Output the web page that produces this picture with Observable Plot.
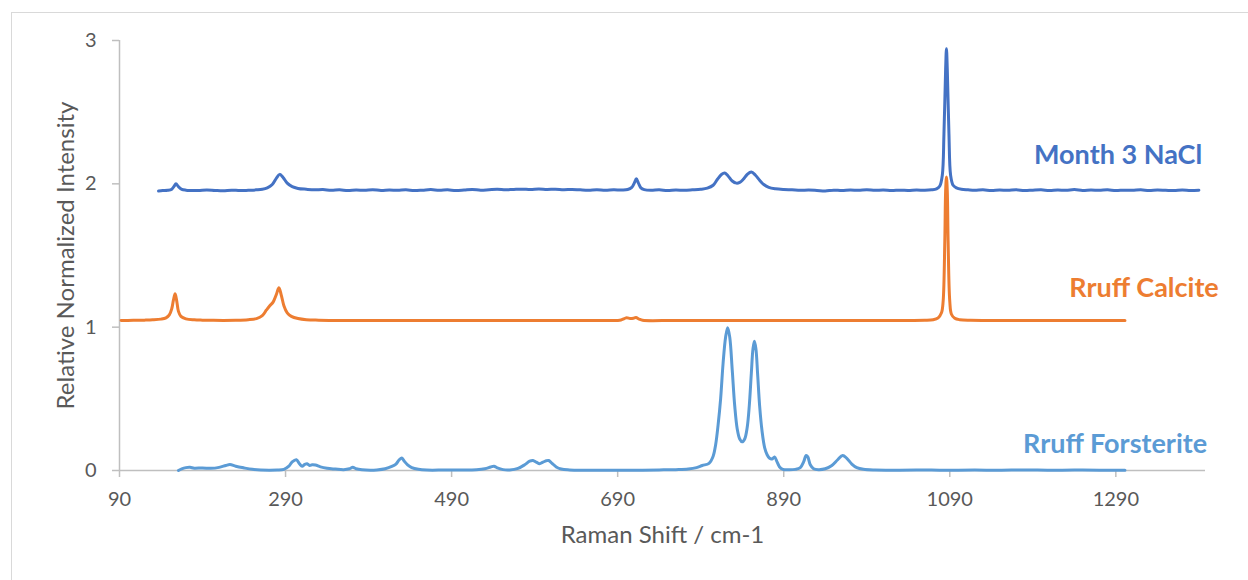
<!DOCTYPE html>
<html>
<head>
<meta charset="utf-8">
<script src="https://cdn.jsdelivr.net/npm/d3@7"></script>
<script src="https://cdn.jsdelivr.net/npm/@observablehq/plot@0.6"></script>
<style>
  html, body { margin: 0; padding: 0; background: #fff; }
  #chart { position: relative; width: 1248px; height: 580px; overflow: hidden; }
  #chart svg { display: block; }
  #border {
    position: absolute; left: 11px; top: 12px; right: -4px; bottom: -4px;
    border: 1px solid #d9d9d9; pointer-events: none;
  }
</style>
</head>
<body>
<div id="chart"><div id="border"></div></div>
<script>
// Raman spectra, offset vertically: [shift (cm-1), relative normalized intensity]
const naclSpectrum = [
  [137,1.950],[142,1.953],[148,1.955],[153,1.963],[156,1.985],[158,2.000],[161,1.980],[165,1.962],
  [170,1.956],[177,1.954],[185,1.953],[195,1.957],[205,1.954],[215,1.952],[225,1.956],[235,1.953],
  [245,1.955],[255,1.958],[262,1.962],[268,1.972],[274,1.995],[279,2.040],[283,2.066],[287,2.045],
  [292,2.005],[298,1.980],[305,1.968],[315,1.962],[325,1.958],[335,1.960],[345,1.955],[355,1.958],
  [365,1.953],[375,1.957],[385,1.955],[395,1.959],[405,1.954],[415,1.957],[425,1.955],[435,1.958],
  [445,1.953],[455,1.956],[465,1.960],[475,1.955],[485,1.958],[495,1.954],[505,1.957],[515,1.961],
  [525,1.956],[535,1.959],[545,1.962],[555,1.958],[565,1.961],[575,1.963],[585,1.960],[595,1.964],
  [605,1.961],[615,1.963],[625,1.959],[635,1.961],[645,1.958],[655,1.956],[665,1.959],[675,1.955],
  [685,1.958],[695,1.957],[702,1.960],[707,1.975],[710,2.005],[712.5,2.035],[715,2.005],[718,1.972],
  [722,1.960],[730,1.955],[740,1.958],[750,1.953],[760,1.957],[770,1.955],[780,1.958],[790,1.962],
  [798,1.970],[805,1.990],[810,2.030],[815,2.065],[819,2.075],[823,2.055],[828,2.020],[833,2.005],
  [837,2.010],[841,2.030],[846,2.065],[851,2.082],[856,2.060],[861,2.025],[866,1.995],[872,1.975],
  [880,1.965],[890,1.960],[900,1.958],[910,1.955],[920,1.957],[930,1.954],[940,1.950],[950,1.956],
  [960,1.953],[970,1.957],[980,1.955],[990,1.958],[1000,1.955],[1010,1.957],[1020,1.953],[1030,1.956],
  [1040,1.954],[1050,1.957],[1060,1.955],[1068,1.958],[1074,1.965],[1078,1.985],[1081,2.060],
  [1083,2.350],[1085,2.800],[1086,2.943],[1087,2.800],[1089,2.350],[1091,2.060],[1094,1.990],
  [1098,1.972],[1104,1.962],[1112,1.958],[1120,1.955],[1130,1.958],[1140,1.954],[1150,1.957],
  [1160,1.955],[1170,1.959],[1180,1.953],[1190,1.956],[1200,1.958],[1210,1.954],[1220,1.957],
  [1230,1.955],[1240,1.960],[1250,1.954],[1260,1.957],[1270,1.955],[1280,1.958],[1290,1.953],
  [1300,1.956],[1310,1.955],[1320,1.958],[1330,1.954],[1340,1.957],[1350,1.955],[1360,1.953],
  [1370,1.957],[1380,1.954],[1390,1.956]
];

const calciteSpectrum = [
  [92,1.047],[100,1.047],[110,1.048],[120,1.049],[130,1.051],[140,1.056],[146,1.065],[150,1.085],
  [153,1.130],[155,1.190],[157,1.233],[159,1.180],[161,1.110],[164,1.075],[170,1.058],[180,1.051],
  [190,1.049],[200,1.048],[215,1.047],[230,1.048],[245,1.052],[255,1.060],[262,1.080],[267,1.120],
  [271,1.150],[275,1.175],[279,1.230],[282,1.275],[285,1.220],[288,1.150],[292,1.100],[297,1.075],
  [305,1.060],[315,1.052],[330,1.049],[360,1.047],[450,1.047],[550,1.047],[650,1.047],[690,1.047],
  [694,1.050],[698,1.060],[701,1.066],[705,1.060],[709,1.062],[712,1.067],[716,1.056],[720,1.048],
  [760,1.047],[850,1.047],[950,1.047],[1040,1.047],[1060,1.048],[1070,1.052],[1076,1.065],
  [1080,1.100],[1082,1.180],[1084,1.600],[1085,1.950],[1086,2.047],[1087,1.950],[1088,1.600],
  [1090,1.180],[1092,1.090],[1096,1.062],[1102,1.052],[1115,1.048],[1150,1.047],[1250,1.047],
  [1301,1.047]
];

const forsteriteSpectrum = [
  [161,0.000],[165,0.012],[170,0.020],[175,0.022],[180,0.016],[190,0.018],[200,0.015],[210,0.022],
  [218,0.035],[223,0.042],[230,0.030],[240,0.018],[250,0.008],[260,0.003],[270,0.002],[280,0.003],
  [288,0.008],[294,0.030],[298,0.060],[303,0.075],[307,0.045],[310,0.030],[313,0.042],[316,0.047],
  [319,0.035],[322,0.040],[326,0.038],[332,0.025],[340,0.015],[350,0.010],[360,0.006],[367,0.012],
  [371,0.022],[375,0.012],[382,0.005],[392,0.002],[400,0.004],[410,0.012],[418,0.028],[423,0.045],
  [427,0.075],[430,0.088],[433,0.065],[437,0.040],[442,0.020],[450,0.008],[460,0.003],[480,0.003],
  [500,0.004],[520,0.006],[530,0.012],[537,0.024],[541,0.030],[545,0.018],[552,0.006],[560,0.004],
  [570,0.015],[578,0.040],[584,0.065],[588,0.070],[592,0.058],[596,0.047],[600,0.058],[604,0.068],
  [607,0.070],[611,0.050],[616,0.025],[622,0.010],[632,0.004],[650,0.002],[680,0.002],[710,0.002],
  [740,0.004],[760,0.006],[775,0.010],[785,0.020],[792,0.035],[800,0.050],[805,0.100],[808,0.180],
  [811,0.320],[814,0.500],[817,0.750],[820,0.930],[822.5,0.996],[825,0.930],[828,0.700],[831,0.450],
  [834,0.290],[837,0.220],[840,0.200],[843,0.220],[846,0.300],[848.5,0.450],[851,0.680],[853,0.850],
  [854.7,0.902],[856.5,0.850],[858.5,0.680],[861,0.450],[864,0.270],[867,0.160],[870,0.110],
  [873,0.085],[876,0.080],[879,0.095],[882,0.060],[885,0.025],[889,0.008],[897,0.005],[904,0.008],
  [910,0.020],[914,0.060],[917,0.105],[919,0.095],[922,0.040],[926,0.012],[932,0.006],[940,0.012],
  [948,0.035],[955,0.075],[961,0.105],[966,0.085],[972,0.045],[978,0.020],[986,0.008],[1000,0.003],
  [1030,0.002],[1060,0.003],[1090,0.002],[1120,0.003],[1150,0.002],[1180,0.004],[1210,0.002],
  [1240,0.003],[1270,0.002],[1301,0.002]
];

const seriesNames = ["Month 3 NaCl", "Rruff Calcite", "Rruff Forsterite"];
const seriesColors = ["#4472C4", "#ED7D31", "#5B9BD5"];
const xTicks = [90, 290, 490, 690, 890, 1090, 1290];
const yTicks = [0, 1, 2, 3];
const xTitle = "Raman Shift / cm-1";
const yTitle = "Relative Normalized Intensity";

const spectra = [naclSpectrum, calciteSpectrum, forsteriteSpectrum];
const rows = spectra.flatMap((s, i) => s.map(([shift, intensity]) => ({series: seriesNames[i], shift, intensity})));

// series name labels sit to the right, just above each trace's baseline
const labelRows = [
  {series: seriesNames[0], shift: 1394, intensity: 2.14},
  {series: seriesNames[1], shift: 1414, intensity: 1.21},
  {series: seriesNames[2], shift: 1400, intensity: 0.12}
];

const font = "Lato, 'Open Sans', sans-serif";
const grey = "#595959";
const axisGrey = "#bfbfbf";

const chart = Plot.plot({
  width: 1248,
  height: 580,
  marginLeft: 119,
  marginRight: 43,
  marginTop: 40,
  marginBottom: 110,
  style: {fontFamily: font, background: "#fff", overflow: "visible"},
  x: {domain: [90, 1398]},
  y: {domain: [0, 3]},
  color: {domain: seriesNames, range: seriesColors},
  marks: [
    Plot.ruleX([90], {stroke: axisGrey, strokeWidth: 1.5}),
    Plot.ruleY([0], {stroke: axisGrey, strokeWidth: 1.5, x1: 90, x2: 1398}),
    Plot.axisX({ticks: xTicks, tickSize: 7, tickPadding: 14, tickFormat: d => String(d),
      fontSize: 20, fill: grey, stroke: axisGrey, strokeWidth: 1.5, label: null}),
    Plot.axisY({ticks: yTicks, tickSize: 7, tickPadding: 16, tickFormat: d => String(d),
      fontSize: 20, fill: grey, stroke: axisGrey, strokeWidth: 1.5, label: null}),
    Plot.line(rows, {x: "shift", y: "intensity", z: "series", stroke: "series",
      strokeWidth: 3, strokeLinejoin: "round", strokeLinecap: "round", curve: "catmull-rom"}),
    Plot.text(labelRows, {x: "shift", y: "intensity", text: "series", fill: "series",
      textAnchor: "end", lineAnchor: "bottom", fontSize: 27, fontWeight: "bold", clip: false}),
    Plot.text([xTitle], {frameAnchor: "bottom", textAnchor: "middle", dy: 72, fontSize: 24, fill: grey}),
    Plot.text([yTitle], {x: 90, y: 1.5, textAnchor: "middle", dx: -53, rotate: -90, fontSize: 24, fill: grey})
  ]
});

document.getElementById("chart").prepend(chart);
</script>
</body>
</html>
